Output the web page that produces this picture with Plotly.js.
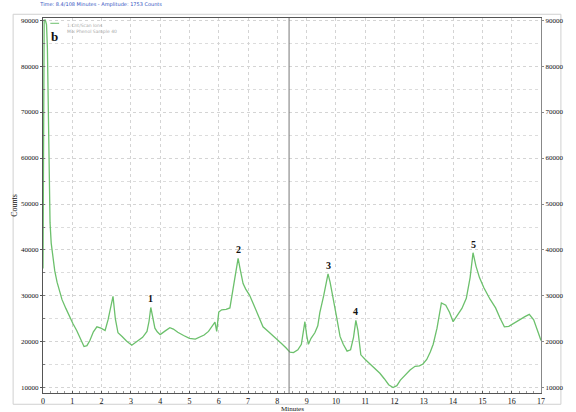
<!DOCTYPE html>
<html><head><meta charset="utf-8">
<script src="https://cdn.plot.ly/plotly-3.0.1.min.js"></script>
<style>html,body{margin:0;padding:0;background:#fff}#chart{width:576px;height:412px}</style>
</head><body><div id="chart"></div>
<script>
// Chromatogram trace (minutes, counts)
var minutes = [0, 0.02, 0.04, 0.08, 0.12, 0.15, 0.18, 0.21, 0.24, 0.28, 0.33, 0.4, 0.48, 0.56, 0.65, 0.78, 0.9, 1.02, 1.15, 1.28, 1.4, 1.5, 1.6, 1.72, 1.84, 1.98, 2.12, 2.22, 2.3, 2.39, 2.47, 2.56, 2.7, 2.85, 3.03, 3.2, 3.4, 3.55, 3.62, 3.68, 3.75, 3.82, 3.9, 4.0, 4.15, 4.33, 4.45, 4.6, 4.8, 5.0, 5.2, 5.36, 5.5, 5.65, 5.78, 5.87, 5.93, 6.0, 6.1, 6.25, 6.38, 6.48, 6.57, 6.66, 6.74, 6.83, 6.92, 7.05, 7.2, 7.35, 7.51, 7.7, 7.85, 8.0, 8.15, 8.3, 8.43, 8.55, 8.7, 8.82, 8.94, 9.0, 9.06, 9.15, 9.28, 9.38, 9.45, 9.58, 9.73, 9.8, 9.9, 10.02, 10.14, 10.25, 10.38, 10.5, 10.6, 10.68, 10.75, 10.85, 11.0, 11.2, 11.35, 11.5, 11.65, 11.8, 11.95, 12.08, 12.2, 12.35, 12.53, 12.7, 12.85, 12.97, 13.1, 13.22, 13.32, 13.45, 13.6, 13.75, 13.88, 14.0, 14.12, 14.3, 14.45, 14.58, 14.68, 14.78, 14.9, 15.05, 15.26, 15.45, 15.6, 15.75, 15.9, 16.05, 16.28, 16.45, 16.6, 16.75, 16.88, 17.0];
var counts = [36000, 80000, 90000, 90000, 89000, 84000, 68000, 54000, 46000, 41500, 38500, 35500, 33000, 31000, 29200, 27300, 25500, 24000, 22500, 20800, 19000, 19200, 20300, 22200, 23300, 23000, 22500, 24800, 27500, 29900, 25000, 22000, 21200, 20200, 19300, 20000, 21000, 22300, 24500, 27500, 25000, 23000, 22200, 21600, 22300, 23100, 22800, 22100, 21400, 20800, 20600, 21000, 21500, 22300, 23500, 24300, 22300, 26500, 27000, 27100, 27400, 31000, 35000, 38200, 35500, 32700, 31500, 30200, 28000, 25800, 23300, 22200, 21400, 20600, 19600, 18700, 17800, 17700, 18300, 19500, 24400, 21500, 19500, 20800, 22000, 23500, 26400, 30000, 34800, 33000, 29800, 25500, 21200, 19500, 18000, 18300, 21000, 24700, 22500, 17200, 16200, 15000, 14200, 13200, 12000, 10700, 10100, 10500, 11700, 12800, 13900, 14700, 14800, 15200, 16200, 17800, 19500, 23000, 28500, 28000, 26400, 24400, 25500, 27300, 29500, 34000, 39400, 36500, 34000, 31800, 29300, 27400, 25200, 23300, 23400, 24000, 25000, 25500, 26000, 24800, 22500, 20300];

// Labelled peaks
var peakLabels = ["1", "2", "3", "4", "5"];
var peakMinutes = [3.68, 6.66, 9.73, 10.68, 14.68];
var peakCounts = [27500, 38200, 34800, 24700, 39400];

var xTicks = [0,1,2,3,4,5,6,7,8,9,10,11,12,13,14,15,16,17];
var yTicks = [10000,20000,30000,40000,50000,60000,70000,80000,90000];
var cursorMinute = 8.4;

var yRange = [8900, 90450];
var serif = "Liberation Serif, Times New Roman, serif";

var traces = [
  {x: minutes, y: counts, type: "scatter", mode: "lines",
   line: {color: "#6cc06c", width: 1.3}, hoverinfo: "skip", showlegend: false},
  {x: minutes, y: counts, type: "scatter", mode: "lines", yaxis: "y2",
   line: {color: "rgba(0,0,0,0)", width: 0}, hoverinfo: "skip", showlegend: false}
];

var annotations = peakLabels.map(function(t, i) {
  return {x: peakMinutes[i], y: peakCounts[i], xref: "x", yref: "y", text: "<b>" + t + "</b>",
          showarrow: false, yanchor: "bottom", yshift: 1,
          font: {family: serif, size: 10, color: "#111"}};
});
annotations.push({x: 0.2, y: 86500, xref: "x", yref: "y", text: "<b>b</b>", showarrow: false,
  xanchor: "left", font: {family: serif, size: 13, color: "#111"}});
annotations.push({x: 0.75, y: 89900, xref: "x", yref: "y", text: "1:Cnt/Scan Ions<br>Mix Phenol Sample 40",
  showarrow: false, xanchor: "left", yanchor: "top", align: "left",
  font: {family: "DejaVu Sans, sans-serif", size: 4.5, color: "#aaa"}});
annotations.push({x: 8.5, y: 0, xref: "x", yref: "paper", text: "Minutes", showarrow: false,
  yanchor: "middle", xanchor: "center", yshift: -16, font: {family: serif, size: 7, color: "#111"}});

var shapes = [
  {type: "line", xref: "x", yref: "paper", x0: cursorMinute, x1: cursorMinute, y0: 0, y1: 1,
   line: {color: "#777", width: 1}},
  {type: "line", xref: "x", yref: "y", x0: 0.25, x1: 0.55, y0: 89300, y1: 89300,
   line: {color: "#6cc06c", width: 1}},
  {type: "rect", xref: "paper", yref: "paper", x0: -0.06, x1: 1.04, y0: -0.03, y1: 1.01,
   line: {color: "#d0d0d0", width: 1}, layer: "below"}
];

var layout = {
  width: 576, height: 412,
  margin: {l: 43, r: 35, t: 18, b: 19},
  paper_bgcolor: "#fff", plot_bgcolor: "#fff",
  title: {text: "Time: 8.4/108 Minutes - Amplitude: 1753 Counts", x: 0.07, xanchor: "left", y: 0.993, yanchor: "top",
          font: {family: "DejaVu Sans, sans-serif", size: 5, color: "#3050c0"}},
  xaxis: {range: [0, 17], tickvals: xTicks, ticktext: xTicks.map(String), showgrid: true,
          gridcolor: "#d4d4d4", griddash: "dot", gridwidth: 1, zeroline: false,
          showline: true, linecolor: "#555", linewidth: 1, mirror: true, ticks: "inside", ticklen: 2,
          tickcolor: "#555", tickfont: {family: serif, size: 8, color: "#111"},
          minor: {dtick: 0.25, ticks: "inside", ticklen: 2, tickcolor: "#999", showgrid: false}},
  yaxis: {range: yRange, tickvals: yTicks, ticktext: yTicks.map(String), showgrid: true,
          gridcolor: "#d4d4d4", griddash: "dot", gridwidth: 1, zeroline: false,
          showline: true, linecolor: "#555", linewidth: 1.2, ticks: "outside", ticklen: 2, tickcolor: "#555",
          tickfont: {family: serif, size: 7, color: "#111"},
          title: {text: "Counts", font: {family: serif, size: 8, color: "#111"}, standoff: 2},
          minor: {dtick: 5000, showgrid: true, gridcolor: "#dcdcdc", griddash: "dot", ticks: "inside", ticklen: 2, tickcolor: "#777"}},
  yaxis2: {range: yRange, overlaying: "y", side: "right", tickvals: yTicks, ticktext: yTicks.map(String),
           showgrid: false, zeroline: false, showline: true, linecolor: "#888", ticks: "outside", ticklen: 2,
           tickcolor: "#888", tickfont: {family: serif, size: 7, color: "#111"}},
  annotations: annotations,
  shapes: shapes,
  showlegend: false
};

Plotly.newPlot("chart", traces, layout, {staticPlot: true, displayModeBar: false});
</script></body></html>
